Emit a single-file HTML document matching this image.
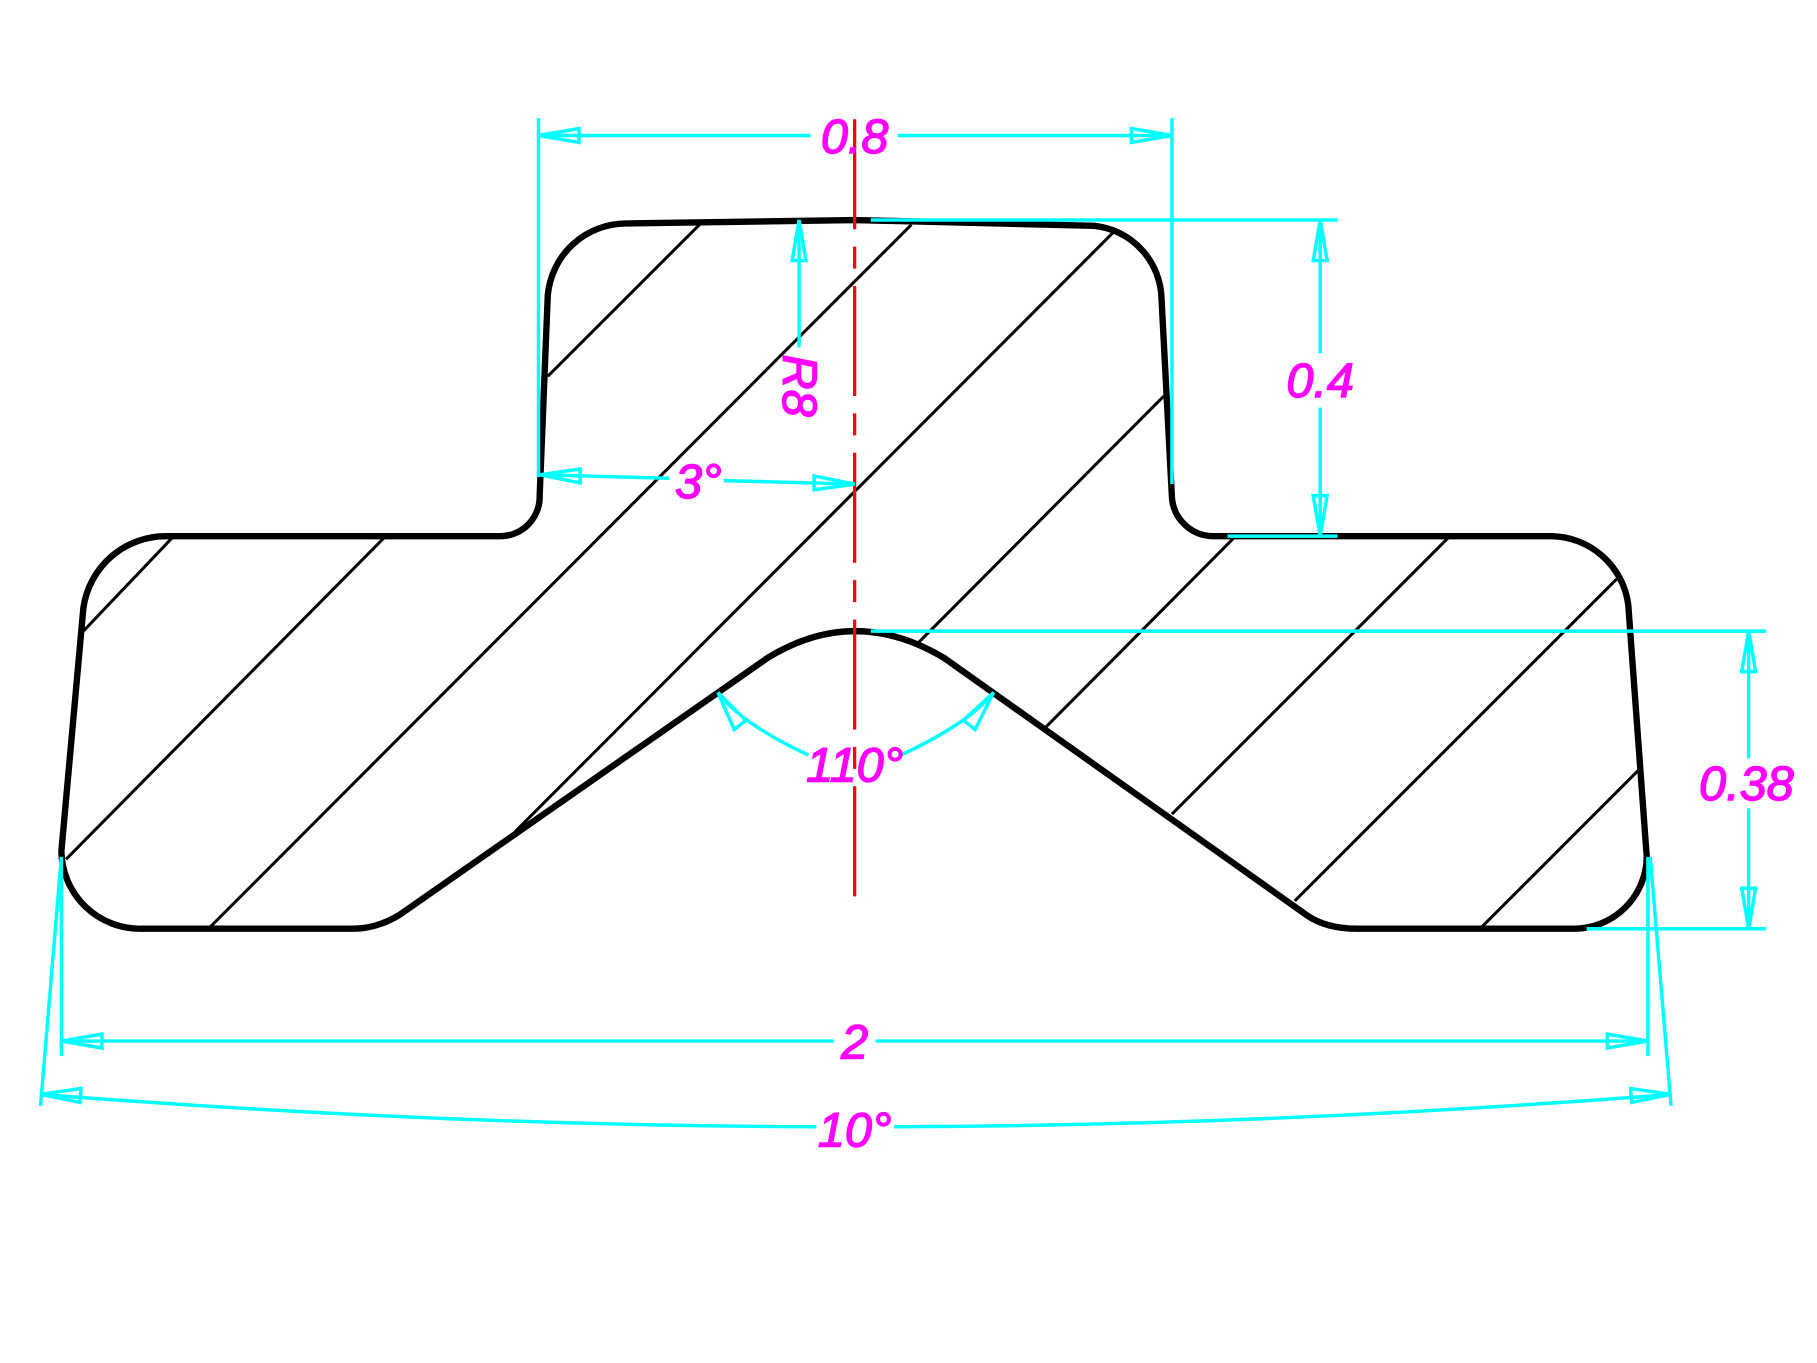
<!DOCTYPE html>
<html><head><meta charset="utf-8"><style>
html,body{margin:0;padding:0;background:#fff;}
svg{display:block;}
text{font-family:"Liberation Sans",sans-serif;font-style:italic;fill:#ff00ff;font-size:42px;stroke:#ff00ff;stroke-width:1.2px;}
</style></head><body>
<svg width="1817" height="1363" viewBox="0 0 1569 1177" preserveAspectRatio="none" xmlns="http://www.w3.org/2000/svg">
<rect width="1569" height="1177" fill="#fff"/>
<g stroke="#000" stroke-width="2.6" fill="none">
<line x1="473" y1="325" x2="604" y2="194"/>
<line x1="72" y1="545" x2="150" y2="463"/>
<line x1="57" y1="742" x2="333" y2="463"/>
<line x1="180" y1="802" x2="787" y2="194"/>
<line x1="445" y1="718" x2="962" y2="200"/>
<line x1="793" y1="555" x2="1005" y2="342"/>
<line x1="903" y1="628" x2="1065" y2="465"/>
<line x1="1012" y1="703" x2="1250" y2="465"/>
<line x1="1118" y1="778" x2="1396" y2="500"/>
<line x1="1278" y1="802" x2="1418" y2="662"/>
</g>
<path d="M540,193 L738,190 L945,195 A65 65 0 0 1 1003,258 L1012,430 A36 36 0 0 0 1048,463 L1340,463 A68 68 0 0 1 1406,522 L1422,740 A63 63 0 0 1 1360,802 L1172,802 Q1145,802 1128,790 L815,568 Q738,522 663,568 L345,790 Q325,802 305,802 L122,802 A68 68 0 0 1 53,735 L72,525 A72 72 0 0 1 145,463 L432,463 A34 34 0 0 0 466,428 L473,255 A68 68 0 0 1 540,193 Z" fill="none" stroke="#000" stroke-width="5.5" stroke-linejoin="round"/>
<line x1="738" y1="103" x2="738" y2="776" stroke="#ff0000" stroke-width="2.8" stroke-dasharray="95,15,19,15"/>
<g stroke="#00ffff" stroke-width="3" fill="none">
<line x1="465" y1="102" x2="465" y2="412"/>
<line x1="1012" y1="102" x2="1012" y2="418"/>
<line x1="465" y1="117" x2="700" y2="117"/>
<line x1="775" y1="117" x2="1012" y2="117"/>
<polygon points="465,117 500,111 500,123"/>
<polygon points="1012,117 977,111 977,123"/>
<line x1="752" y1="190" x2="1155" y2="190"/>
<line x1="1060" y1="463" x2="1155" y2="463"/>
<line x1="1140" y1="190" x2="1140" y2="305"/>
<line x1="1140" y1="352" x2="1140" y2="463"/>
<polygon points="1140,190 1134,225 1146,225"/>
<polygon points="1140,463 1134,428 1146,428"/>
<line x1="690" y1="190" x2="690" y2="300"/>
<polygon points="690,190 684,225 696,225"/>
<line x1="466" y1="410" x2="578" y2="413"/>
<line x1="625" y1="415" x2="738" y2="418"/>
<polygon points="466,410 501,405 501,417"/>
<polygon points="738,418 703,411 703,423"/>
<line x1="752" y1="545" x2="1525" y2="545"/>
<line x1="1370" y1="802" x2="1525" y2="802"/>
<line x1="1510" y1="545" x2="1510" y2="655"/>
<line x1="1510" y1="698" x2="1510" y2="802"/>
<polygon points="1510,545 1504,580 1516,580"/>
<polygon points="1510,802 1504,767 1516,767"/>
<path d="M620,598 Q640,625 698,652"/>
<path d="M778,652 Q836,625 858,598"/>
<polygon points="620,598 634,630 644,622"/>
<polygon points="858,598 832,622 842,630"/>
<line x1="53" y1="740" x2="53" y2="912"/>
<line x1="1423" y1="740" x2="1423" y2="912"/>
<line x1="53" y1="899" x2="720" y2="899"/>
<line x1="756" y1="899" x2="1423" y2="899"/>
<polygon points="53,899 88,893 88,905"/>
<polygon points="1423,899 1388,893 1388,905"/>
<line x1="53" y1="740" x2="35" y2="955"/>
<line x1="1425" y1="740" x2="1443" y2="955"/>
<path d="M35,945 Q380,972 705,973"/>
<path d="M772,973 Q1100,972 1443,945"/>
<polygon points="35,945 70,940 69,952"/>
<polygon points="1443,945 1408,940 1409,952"/>
</g>
<text x="738" y="132" text-anchor="middle">0.8</text>
<text x="1140" y="343" text-anchor="middle">0.4</text>
<text x="1508" y="691" text-anchor="middle">0.38</text>
<text x="603" y="430" text-anchor="middle">3°</text>
<text x="738" y="675" text-anchor="middle">110°</text>
<text x="738" y="914" text-anchor="middle">2</text>
<text x="738" y="990" text-anchor="middle">10°</text>
<text x="0" y="0" transform="translate(676,333) rotate(90)" text-anchor="middle">R8</text>
</svg>
</body></html>
